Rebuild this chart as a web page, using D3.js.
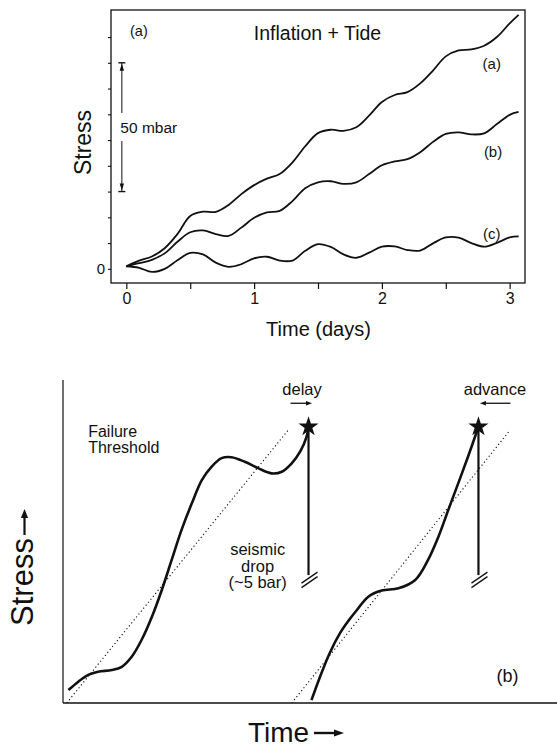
<!DOCTYPE html>
<html>
<head>
<meta charset="utf-8">
<script src="https://cdn.jsdelivr.net/npm/d3@7"></script>
<style>
  html, body { margin: 0; padding: 0; background: #fff; }
  svg { display: block; }
  text { font-family: "Liberation Sans", Arial, Helvetica, sans-serif; fill: #111; }
</style>
</head>
<body>
<svg id="fig" width="557" height="755"></svg>
<script>
// ---------- Panel (a): stress change (mbar) from inflation + tide ----------
const days = [0, 0.1, 0.2, 0.3, 0.4, 0.5, 0.6, 0.7, 0.8, 0.9, 1.0, 1.1, 1.2, 1.3, 1.4, 1.5,
              1.6, 1.7, 1.8, 1.9, 2.0, 2.1, 2.2, 2.3, 2.4, 2.5, 2.6, 2.7, 2.8, 2.9, 3.0, 3.07];
const stressA = [1.0, 3.2, 4.8, 8.0, 13.5, 20.5, 22.2, 22.1, 24.8, 29.0, 32.5, 35.0, 36.8, 41.3, 47.6, 52.7,
                 54.0, 53.6, 55.0, 59.5, 64.8, 67.5, 68.6, 72.0, 77.0, 82.5, 84.8, 85.2, 86.6, 90.0, 95.3, 98.6];
const stressB = [1.0, 2.2, 3.5, 6.0, 10.5, 14.2, 14.9, 13.5, 12.8, 16.0, 19.8, 21.9, 22.5, 26.3, 31.3, 33.6,
                 34.0, 33.0, 33.6, 36.8, 40.2, 41.7, 42.6, 45.3, 49.3, 52.4, 53.0, 52.2, 52.6, 56.2, 59.8, 60.9];
const stressC = [1.0, 0.4, -1.2, 0.0, 3.3, 6.2, 5.6, 2.4, 0.8, 1.8, 4.1, 4.7, 3.2, 3.2, 7.0, 9.6,
                 8.5, 5.6, 4.3, 6.3, 8.6, 8.7, 7.3, 7.1, 9.9, 12.2, 12.1, 10.0, 8.6, 10.1, 12.2, 12.6];
const seriesNames = ["(a)", "(b)", "(c)"];
const dayTicks = [0, 0.5, 1, 1.5, 2, 2.5, 3];
const stressTicks = [0, 10, 20, 30, 40, 50, 60, 70, 80, 90];
const scaleBarRange = [30, 80];           // 50 mbar reference bar

// ---------- Panel (b): schematic stress cycle ----------
const cycle1Time   = [1.1, 3.1, 5.1, 7.1, 9.9, 11.9, 13.9, 15.9, 18.0, 20.0, 22.0, 24.0, 26.1, 28.1,
                      30.1, 32.1, 34.1, 36.8, 39.5, 42.2, 44.3, 46.3, 48.0, 49.3, 49.7];
const cycle1Stress = [4.0, 6.6, 8.7, 9.7, 10.2, 11.2, 14.3, 19.5, 26.7, 35.0, 44.3, 53.6, 61.9, 69.0,
                      73.2, 75.8, 76.1, 74.7, 72.7, 71.1, 71.6, 74.2, 77.8, 82.4, 85.5];
const cycle2Time   = [50.3, 52.0, 54.0, 56.1, 57.8, 59.5, 61.8, 64.5, 67.9, 71.3, 73.9, 76.0, 78.0, 80.0, 82.0, 84.1];
const cycle2Stress = [0.9, 8.0, 15.5, 21.7, 25.5, 28.8, 32.9, 34.8, 35.5, 38.1, 44.3, 51.5, 59.8, 68.0, 76.3, 85.5];
const thresholdStart = [0.75, 46.3];      // time where each threshold ramp starts (stress 0)
const thresholdEnd   = [45.6, 90.5];      // time where each ramp ends
const thresholdTop   = 84.5;
const failureTime    = [49.7, 84.1];
const failureStress  = 85.5;
const dropStress     = 39.6;              // where the seismic drop line is broken off

const svg = d3.select("#fig");
const ink = "#111";

// ================= Panel (a) =================
const xA = d3.scaleLinear().domain([-0.12, 3.12]).range([111, 525]);
const yA = d3.scaleLinear().domain([-5.5, 100.5]).range([283, 10]);
const gA = svg.append("g");

gA.append("rect")
  .attr("x", xA.range()[0]).attr("y", yA.range()[1])
  .attr("width", xA.range()[1] - xA.range()[0])
  .attr("height", yA.range()[0] - yA.range()[1])
  .attr("fill", "none").attr("stroke", ink).attr("stroke-width", 1.3);

const axB = gA.append("g").attr("transform", `translate(0,${yA.range()[0]})`)
  .call(d3.axisBottom(xA).tickValues(dayTicks).tickSize(6).tickPadding(4)
        .tickFormat(d => Number.isInteger(d) ? d : ""));
axB.select(".domain").remove();
axB.selectAll("line").attr("stroke", ink).attr("stroke-width", 1.2);
axB.selectAll("text").attr("font-size", 16).attr("fill", ink)
   .attr("font-family", "Liberation Sans, Arial, sans-serif");

const axL = gA.append("g").attr("transform", `translate(${xA.range()[0]},0)`)
  .call(d3.axisLeft(yA).tickValues(stressTicks).tickSize(3).tickPadding(3)
        .tickFormat(d => d === 0 ? "0" : ""));
axL.select(".domain").remove();
axL.selectAll("line").attr("stroke", ink).attr("stroke-width", 1.1);
axL.selectAll("text").attr("font-size", 15).attr("fill", ink)
   .attr("font-family", "Liberation Sans, Arial, sans-serif");

const lineA = d3.line().x(d => xA(d[0])).y(d => yA(d[1])).curve(d3.curveCatmullRom.alpha(0.5));
[stressA, stressB, stressC].forEach(series => {
  gA.append("path")
    .datum(days.map((t, i) => [t, series[i]]))
    .attr("d", lineA).attr("fill", "none")
    .attr("stroke", ink).attr("stroke-width", 1.8);
});

// curve labels near the right end
const labelAnchor = [[2.86, 77.6], [2.87, 43.4], [2.86, 11.4]];
seriesNames.forEach((name, i) => {
  gA.append("text").attr("x", xA(labelAnchor[i][0])).attr("y", yA(labelAnchor[i][1]))
    .attr("text-anchor", "middle").attr("font-size", 15).text(name);
});

// 50 mbar reference bar
const barX = xA(-0.035);
const barTop = yA(scaleBarRange[1]), barBot = yA(scaleBarRange[0]);
const gapTop = 113, gapBot = 141;
gA.append("line").attr("x1", barX).attr("x2", barX).attr("y1", barTop).attr("y2", gapTop)
  .attr("stroke", ink).attr("stroke-width", 1);
gA.append("line").attr("x1", barX).attr("x2", barX).attr("y1", gapBot).attr("y2", barBot)
  .attr("stroke", ink).attr("stroke-width", 1);
[barTop, barBot].forEach((y, k) => {
  gA.append("line").attr("x1", barX - 3.5).attr("x2", barX + 3.5).attr("y1", y).attr("y2", y)
    .attr("stroke", ink).attr("stroke-width", 1.4);
  const dir = k === 0 ? 1 : -1;
  gA.append("path")
    .attr("d", `M${barX},${y + dir * 1} L${barX - 2.2},${y + dir * 8} L${barX + 2.2},${y + dir * 8} Z`)
    .attr("fill", ink);
});
gA.append("text").attr("x", barX - 1.5).attr("y", (barTop + barBot) / 2 + 5.5)
  .attr("font-size", 15.5).text("50 mbar");

gA.append("text").attr("x", 130).attr("y", 36).attr("font-size", 14.5).text("(a)");
gA.append("text").attr("x", 317.5).attr("y", 40).attr("text-anchor", "middle")
  .attr("font-size", 19.5).text("Inflation + Tide");
gA.append("text").attr("transform", "translate(91,142.5) rotate(-90)")
  .attr("text-anchor", "middle").attr("font-size", 23).text("Stress");
gA.append("text").attr("x", 318.5).attr("y", 336).attr("text-anchor", "middle")
  .attr("font-size", 20).text("Time (days)");

// ================= Panel (b) =================
const xB = d3.scaleLinear().domain([0, 100]).range([63, 557]);
const yB = d3.scaleLinear().domain([0, 100]).range([703, 380]);
const gB = svg.append("g");

gB.append("line").attr("x1", xB(0)).attr("x2", xB(0)).attr("y1", yB(0)).attr("y2", yB(100))
  .attr("stroke", ink).attr("stroke-width", 1.2);
gB.append("line").attr("x1", xB(0)).attr("x2", xB(100)).attr("y1", yB(0)).attr("y2", yB(0))
  .attr("stroke", ink).attr("stroke-width", 1.3);

// failure-threshold ramps
thresholdStart.forEach((t0, i) => {
  gB.append("line")
    .attr("x1", xB(t0)).attr("y1", yB(0))
    .attr("x2", xB(thresholdEnd[i])).attr("y2", yB(thresholdTop))
    .attr("stroke", ink).attr("stroke-width", 1.1).attr("stroke-dasharray", "1.2,2.6");
});

const lineB = d3.line().x(d => xB(d[0])).y(d => yB(d[1])).curve(d3.curveCatmullRom.alpha(0.5));
[[cycle1Time, cycle1Stress], [cycle2Time, cycle2Stress]].forEach(([ts, ss]) => {
  gB.append("path").datum(ts.map((t, i) => [t, ss[i]]))
    .attr("d", lineB).attr("fill", "none")
    .attr("stroke", ink).attr("stroke-width", 2.6).attr("stroke-linejoin", "round");
});

// seismic drop lines, break marks and stars
failureTime.forEach(t => {
  const x = xB(t), yTop = yB(failureStress), yEnd = yB(dropStress);
  gB.append("line").attr("x1", x).attr("x2", x).attr("y1", yTop).attr("y2", yEnd)
    .attr("stroke", ink).attr("stroke-width", 2.2);
  [0, 4.5].forEach(off => {
    gB.append("line")
      .attr("x1", x - 7).attr("y1", yEnd + 8 + off)
      .attr("x2", x + 9).attr("y2", yEnd - 3 + off)
      .attr("stroke", ink).attr("stroke-width", 1.3);
  });
  gB.append("path").attr("d", d3.symbol(d3.symbolStar, 125)())
    .attr("transform", `translate(${x},${yTop})`).attr("fill", ink);
});

function arrow(g, x1, y1, x2, y2, head, half, width) {
  const a = Math.atan2(y2 - y1, x2 - x1);
  const bx = x2 - head * Math.cos(a), by = y2 - head * Math.sin(a);
  g.append("line").attr("x1", x1).attr("y1", y1).attr("x2", bx).attr("y2", by)
    .attr("stroke", ink).attr("stroke-width", width);
  g.append("path").attr("d",
    `M${x2},${y2} L${bx - half * Math.sin(a)},${by + half * Math.cos(a)} L${bx + half * Math.sin(a)},${by - half * Math.cos(a)} Z`)
    .attr("fill", ink);
}

const arrowY = yB(92.8);
gB.append("text").attr("x", xB(failureTime[0]) - 6.5).attr("y", yB(95.4))
  .attr("text-anchor", "middle").attr("font-size", 16.5).text("delay");
arrow(gB, xB(failureTime[0]) - 18, arrowY, xB(failureTime[0]) + 3.5, arrowY, 6, 2.3, 1.3);
gB.append("text").attr("x", xB(failureTime[1]) + 16.5).attr("y", yB(95.4))
  .attr("text-anchor", "middle").attr("font-size", 16.5).text("advance");
arrow(gB, xB(failureTime[1]) + 32, arrowY, xB(failureTime[1]) + 1.5, arrowY, 6, 2.3, 1.3);

const ft = gB.append("text").attr("x", xB(5.1)).attr("y", yB(82.2)).attr("font-size", 16);
ft.append("tspan").text("Failure");
ft.append("tspan").attr("x", xB(5.1)).attr("dy", 16).text("Threshold");

const sd = gB.append("text").attr("x", xB(39.4)).attr("y", yB(45.8))
  .attr("text-anchor", "middle").attr("font-size", 16.5);
sd.append("tspan").text("seismic");
sd.append("tspan").attr("x", xB(39.4)).attr("dy", 16.5).text("drop");
sd.append("tspan").attr("x", xB(39.4)).attr("dy", 16.5).text("(~5 bar)");

gB.append("text").attr("x", xB(90.0)).attr("y", yB(6.5)).attr("text-anchor", "middle")
  .attr("font-size", 18).text("(b)");

// axis titles with direction arrows
gB.append("text").attr("transform", "translate(33,582) rotate(-90)")
  .attr("text-anchor", "middle").attr("font-size", 31).text("Stress");
arrow(gB, 24.5, 535, 24.5, 509, 9, 3.6, 2.2);
gB.append("text").attr("x", 248).attr("y", 742).attr("font-size", 28).text("Time");
arrow(gB, 314, 733, 344, 733, 10, 3.4, 2.4);
</script>
</body>
</html>
